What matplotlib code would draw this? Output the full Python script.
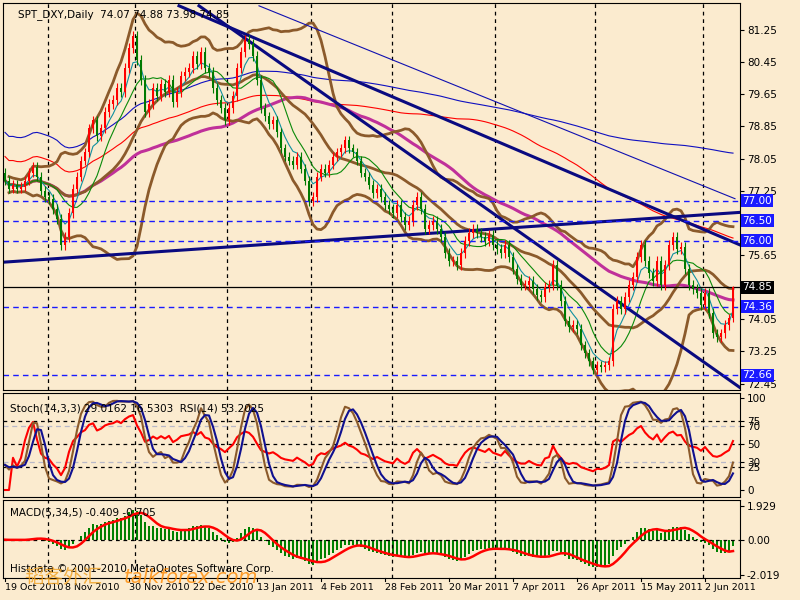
import numpy as np
import pandas as pd
import matplotlib
matplotlib.use("Agg")
import matplotlib.pyplot as plt

plt.rcParams['font.family'] = ['DejaVu Sans', 'Noto Sans CJK SC']

closes = [77.5, 77.3, 77.4, 77.3, 77.35, 77.5, 77.7, 77.85, 77.6, 77.25,
          77.1, 77.05, 76.8, 76.55, 75.9, 76.1, 76.7, 77.3, 77.6, 78.0,
          78.2, 78.8, 79.0, 78.6, 78.8, 79.2, 79.4, 79.5, 79.8, 79.7,
          80.3, 80.8, 81.1, 80.5, 80.0, 79.2, 79.4, 79.8, 79.6, 79.9,
          79.7, 80.0, 79.45, 79.7, 80.1, 80.2, 80.3, 80.6, 80.4, 80.7,
          80.3, 80.2, 79.8, 79.5, 79.3, 79.0, 79.3, 79.6, 80.3, 80.7,
          81.0, 80.9, 80.6, 80.0, 79.3, 79.1, 78.9, 79.0, 78.7, 78.3,
          78.1, 78.0, 77.9, 78.1, 77.8, 77.5, 77.0, 77.1, 77.6, 77.8,
          77.7, 77.9, 78.1, 78.2, 78.3, 78.5, 78.3, 78.2, 78.0, 77.7,
          77.6, 77.4, 77.2, 77.3, 77.1, 76.9, 76.8, 76.7, 76.9, 76.6,
          76.4, 76.5, 76.9, 77.1, 76.8, 76.3, 76.4, 76.5, 76.3, 76.1,
          75.7, 75.5, 75.5, 75.4, 75.7, 76.0, 76.2, 76.3, 76.2, 76.1,
          76.0, 76.15, 75.9, 75.8, 75.7, 75.9, 75.6, 75.3, 75.05, 74.9,
          74.9, 75.0, 74.8, 74.65, 74.6, 74.85, 74.9, 75.4, 74.9, 74.5,
          74.0, 73.85, 73.9, 73.8, 73.4, 73.2, 73.0, 72.8, 72.9, 72.85,
          72.9, 73.0, 74.3, 74.5, 74.3, 74.6, 74.9, 75.1, 75.6, 75.9,
          75.5, 75.2, 75.0, 75.5, 74.9, 75.4, 75.9, 76.1, 75.8, 75.85,
          75.3, 74.9, 74.8, 74.7, 74.4, 74.7, 74.2, 73.7, 73.6, 73.7,
          73.9, 74.07, 74.85]
first_open = 77.7
date_idx = [0, 15, 31, 47, 63, 79, 95, 111, 127, 143, 159, 175]
date_labels = ['19 Oct 2010', '8 Nov 2010', '30 Nov 2010', '22 Dec 2010', '13 Jan 2011',
               '4 Feb 2011', '28 Feb 2011', '20 Mar 2011', '7 Apr 2011', '26 Apr 2011',
               '15 May 2011', '2 Jun 2011']
grid_idx = [10.75, 32.5, 55.5, 76.5, 96.75, 122.5, 147.5, 174.5]
price_ticks = [81.25, 80.45, 79.65, 78.85, 78.05, 77.25, 75.65, 74.05, 73.25, 72.45]
blue_levels = [77.00, 76.50, 76.00, 74.36, 72.66]
last_level = 74.85
trend_lines = [(-0.5, 75.47, 183.75, 76.71),
               (48.5, 81.85, 183.75, 72.35),
               (43.5, 81.85, 183.75, 75.9)]
thin_trend = (63.5, 81.85, 182.5, 77.05)

c = np.array(closes)
n = len(c)
o = np.concatenate([[first_open], c[:-1]])
o[-1] = 74.07
wick = 0.12
h = np.maximum(o, c) + wick
l = np.minimum(o, c) - wick
h[-1], l[-1] = 74.88, 73.98
s = pd.Series(c)
x = np.arange(n)

bg = '#fbebcf'
fig = plt.figure(figsize=(8, 6), dpi=100, facecolor=bg)
W, H = 800, 600
def axes(y0, y1):
    a = fig.add_axes([3 / W, 1 - y1 / H, 737 / W, (y1 - y0) / H], facecolor=bg)
    for sp in a.spines.values():
        sp.set_color('black')
    a.set_xlim(-0.5, 183.75)
    a.tick_params(axis='y', which='both', left=False, right=True, labelleft=False,
                  labelright=True, labelsize=7.5, length=3, pad=2)
    a.tick_params(axis='x', bottom=False, labelbottom=False)
    for g in grid_idx:
        a.axvline(g, color='black', ls=(0, (3, 3)), lw=0.9)
    return a

ax = axes(3, 390)
ax.set_ylim(72.29, 81.92)
ax.set_yticks(price_ticks)

ma200 = s.rolling(200, min_periods=1).mean()
ma100 = s.rolling(100, min_periods=1).mean()
ma55 = s.rolling(55, min_periods=1).mean()
mid = s.rolling(20, min_periods=1).mean()
sd = s.rolling(20, min_periods=2).std(ddof=0)
ax.plot(x, ma200 + 1.2, color='#1010c0', lw=0.8)
ax.plot(x, ma100 + 0.6, color='red', lw=0.8)
ax.plot(x, ma55, color='#c0309a', lw=2.2)
ax.plot(x, mid + 2 * sd, color='#8b5a2b', lw=2)
ax.plot(x, mid - 2 * sd, color='#8b5a2b', lw=2)
ax.plot(x, mid, color='#8b5a2b', lw=2)
ax.plot(x, s.rolling(10, min_periods=1).mean(), color='#0a8a0a', lw=0.8)
ax.plot(x, s.ewm(span=5).mean(), color='#1090a0', lw=0.8)

for (x0, p0, x1, p1) in trend_lines:
    ax.plot([x0, x1], [p0, p1], color='#0a0a80', lw=2.2)
ax.plot([thin_trend[0], thin_trend[2]], [thin_trend[1], thin_trend[3]], color='#1010b0', lw=0.8)

for lv in blue_levels:
    ax.axhline(lv, color='#1a1aff', ls=(0, (4, 3)), lw=1)
    ax.text(1.003, lv, f'{lv:.2f}', transform=ax.get_yaxis_transform(), va='center', ha='left',
            fontsize=7.5, color='white', bbox=dict(boxstyle='square,pad=0.15', fc='#1a1aff', ec='none'),
            clip_on=False, zorder=10)
ax.axhline(last_level, color='black', lw=0.9)
ax.text(1.003, last_level, f'{last_level:.2f}', transform=ax.get_yaxis_transform(), va='center',
        ha='left', fontsize=7.5, color='white',
        bbox=dict(boxstyle='square,pad=0.15', fc='black', ec='none'), clip_on=False, zorder=10)

up = c >= o
for i in range(n):
    col = 'red' if up[i] else '#007a00'
    ax.vlines(x[i], l[i], h[i], color=col, lw=0.8, zorder=5)
    ax.bar(x[i], max(abs(c[i] - o[i]), 0.02), bottom=min(o[i], c[i]), width=0.7,
           color=col, zorder=6)
ax.text(0.02, 0.985, 'SPT_DXY,Daily  74.07 74.88 73.98 74.85', transform=ax.transAxes,
        fontsize=7.5, va='top')

ax2 = axes(393, 497)
ax2.set_ylim(-7.6, 105.4)
ax2.set_yticks([100, 75, 70, 50, 30, 25, 0])
hh = pd.Series(h).rolling(14, min_periods=1).max()
ll = pd.Series(l).rolling(14, min_periods=1).min()
k = 100 * (s - ll).rolling(3, min_periods=1).sum() / (hh - ll).rolling(3, min_periods=1).sum()
d = k.rolling(3, min_periods=1).mean()
delta = s.diff().fillna(0)
gain = delta.clip(lower=0).ewm(alpha=1 / 14).mean()
loss = (-delta.clip(upper=0)).ewm(alpha=1 / 14).mean()
rsi = 100 - 100 / (1 + gain / loss.replace(0, 1e-9))
for lv in (75, 50, 25):
    ax2.axhline(lv, color='black', ls=(0, (3, 3)), lw=0.9)
for lv in (70, 30):
    ax2.axhline(lv, color='#b8b8c8', ls=(0, (4, 3)), lw=0.9)
ax2.plot(x, rsi, color='red', lw=1.5)
ax2.plot(x, k, color='#8b5a2b', lw=1.5)
ax2.plot(x, d, color='#101090', lw=1.5)
ax2.text(0.01, 0.9, 'Stoch(14,3,3) 29.0162 16.5303  RSI(14) 53.2025', transform=ax2.transAxes,
         fontsize=7.5, va='top')

ax3 = axes(500, 578)
ax3.set_ylim(-2.19, 2.27)
ax3.set_yticks([1.929, 0.0, -2.019])
ax3.set_yticklabels(['1.929', '0.00', '-2.019'])
macd = s.ewm(span=5).mean() - s.ewm(span=34).mean()
sig = macd.rolling(5, min_periods=1).mean()
ax3.axhline(0, color='black', ls=(0, (3, 3)), lw=0.9)
ax3.bar(x, macd, width=0.6, color='#008000')
ax3.plot(x, sig, color='red', lw=1.8)
ax3.text(0.01, 0.9, 'MACD(5,34,5) -0.409 -0.705', transform=ax3.transAxes, fontsize=7.5, va='top')
ax3.text(0.01, 0.05, 'Histdata © 2001-2010 MetaQuotes Software Corp.', transform=ax3.transAxes,
         fontsize=7.5, va='bottom')
fig.text(0.03, 0.028, '韬客外汇', fontsize=14, color='#f0a020', family=['Noto Sans CJK SC'],
         alpha=0.8)
fig.text(0.155, 0.028, 'talkforex.com', fontsize=14, color='#ff8800', fontstyle='italic', alpha=0.8)

for idx, lab in zip(date_idx, date_labels):
    ax3.text(idx, -0.07, lab, transform=ax3.get_xaxis_transform(), fontsize=6.8, ha='left',
             va='top', clip_on=False)
    ax3.plot([idx, idx], [0, -0.04], transform=ax3.get_xaxis_transform(), color='black',
             lw=0.8, clip_on=False)

fig.savefig('out.png', dpi=100, facecolor=bg)
